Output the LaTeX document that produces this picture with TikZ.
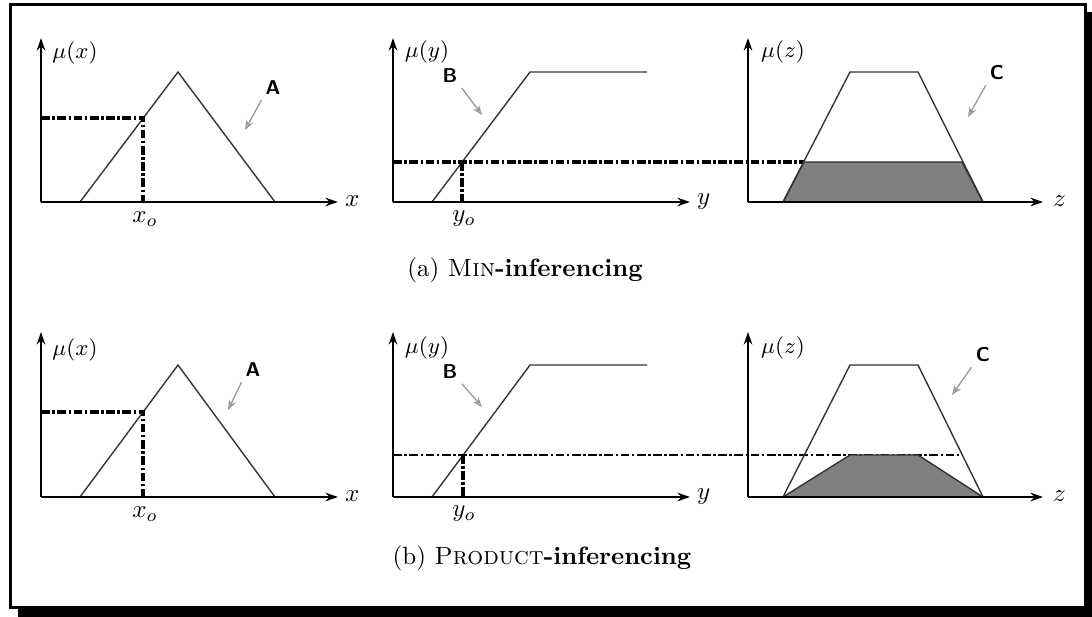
\documentclass[tikz,border=0pt]{standalone}
\usetikzlibrary{arrows.meta,calc}
\definecolor{fg}{RGB}{0,0,0}
\definecolor{ln}{RGB}{50,50,50}
\definecolor{mu}{RGB}{150,150,150}
\definecolor{shade}{RGB}{128,128,128}
\tikzset{
  every picture/.style={fg, line cap=butt, line join=miter},
  % Linien
  axis/.style={line width=1pt, -{Stealth[length=5pt,width=3.4pt]}},
  curve/.style={ln, line width=0.55pt},
  guide/.style={line width=1.3pt, dash pattern=on 3.5pt off 1pt on 1pt off 1pt},
  guidethin/.style={line width=0.55pt, dash pattern=on 3.5pt off 1pt on 1pt off 1pt},
  pointer/.style={mu, line width=0.5pt, -{Stealth[length=4pt,width=3pt,open]}},
  cut/.style={fill=shade, draw=ln, line width=0.55pt},
  % Beschriftung
  mulbl/.style={font=\small, inner sep=1pt},
  axlbl/.style={anchor=west, inner sep=1pt},
  sublbl/.style={inner sep=1pt},
  setlbl/.style={font=\sffamily\bfseries\footnotesize, inner sep=1pt},
  caplbl/.style={inner sep=1pt},
}

\begin{document}
\begin{tikzpicture}[x=0.4pt, y=-0.4pt]
  \useasboundingbox (0,0) rectangle (1092,617);
  % Rahmen mit Schatten
  \fill (18,608) rectangle (1092,617);
  \fill (1085,12) rectangle (1092,617);
  \draw[line width=1.2pt] (10,5) rectangle (1085,608);

  % (a) Min-Inferenz
  \coordinate (oxa) at (41,202);
  \coordinate (oya) at (393,202);
  \coordinate (oza) at (748,202);
  % mu(x)
  \draw[curve] (80,202) -- (178,72) -- (275,202);
  \draw[guide] (41,118) -- (143,118) -- (143,202);
  \draw[axis] (oxa) -- (338,202);
  \draw[axis] (oxa) -- (41,38);
  \node[axlbl] (xa) at (342,201) {$x$};
  \node[mulbl] (mxa) at (75,53) {$\mu(x)$};
  \node[sublbl] (x0a) at (145,219) {$x_o$};
  \node[setlbl] (Aa) at (273,88) {A};
  \coordinate (Aa-tip) at (245,130);
  \draw[pointer, shorten <=1pt] (Aa.south west) -- (Aa-tip);
  % mu(y)
  \draw[curve] (432,202) -- (530,72) -- (647,72);
  \draw[guide] (393,162) -- (804,162);
  \draw[guide] (462,162) -- (462,202);
  \draw[axis] (oya) -- (690,202);
  \draw[axis] (oya) -- (393,38);
  \node[axlbl] (ya) at (694,202) {$y$};
  \node[mulbl] (mya) at (427,52) {$\mu(y)$};
  \node[sublbl] (y0a) at (464,219) {$y_o$};
  \node[setlbl] (Ba) at (450,76) {B};
  \coordinate (Ba-tip) at (482,115);
  \draw[pointer, shorten <=1pt] (Ba.south east) -- (Ba-tip);
  % mu(z)
  \draw[cut] (783,202) -- (804,162) -- (962,162) -- (983,202) -- cycle;
  \draw[curve] (783,202) -- (850,72) -- (918,72) -- (983,202);
  \draw[axis] (oza) -- (1043,202);
  \draw[axis] (oza) -- (748,38);
  \node[axlbl] (za) at (1050,201) {$z$};
  \node[mulbl] (mza) at (783,52) {$\mu(z)$};
  \node[setlbl] (Ca) at (997,73) {C};
  \coordinate (Ca-tip) at (968,117);
  \draw[pointer, shorten <=1pt] (Ca.south west) -- (Ca-tip);
  \node[caplbl] (capa) at (525,270) {(a) \textsc{Min}\textbf{-inferencing}};

  % (b) Produkt-Inferenz
  \begin{scope}[shift={(0,295)}]
    \coordinate (oxb) at (41,202);
    \coordinate (oyb) at (393,202);
    \coordinate (ozb) at (748,202);
    % mu(x)
    \draw[curve] (80,202) -- (178,70) -- (275,202);
    \draw[guide] (41,117) -- (143,117) -- (143,202);
    \draw[axis] (oxb) -- (338,202);
    \draw[axis] (oxb) -- (41,37);
    \node[axlbl] (xb) at (342,201) {$x$};
    \node[mulbl] (mxb) at (75,55) {$\mu(x)$};
    \node[sublbl] (x0b) at (145,219) {$x_o$};
    \node[setlbl] (Ab) at (253,75) {A};
    \coordinate (Ab-tip) at (228,115);
    \draw[pointer, shorten <=1pt] (Ab.south west) -- (Ab-tip);
    % mu(y)
    \draw[curve] (432,202) -- (530,70) -- (647,70);
    \draw[guidethin] (393,160) -- (963,160);
    \draw[guide] (463,160) -- (463,202);
    \draw[axis] (oyb) -- (690,202);
    \draw[axis] (oyb) -- (393,37);
    \node[axlbl] (yb) at (694,202) {$y$};
    \node[mulbl] (myb) at (427,53) {$\mu(y)$};
    \node[sublbl] (y0b) at (464,219) {$y_o$};
    \node[setlbl] (Bb) at (450,77) {B};
    \coordinate (Bb-tip) at (482,112);
    \draw[pointer, shorten <=1pt] (Bb.south east) -- (Bb-tip);
    % mu(z)
    \draw[cut] (783,202) -- (850,160) -- (918,160) -- (983,202) -- cycle;
    \draw[curve] (783,202) -- (850,70) -- (918,70) -- (983,202);
    \draw[axis] (ozb) -- (1043,202);
    \draw[axis] (ozb) -- (748,37);
    \node[axlbl] (zb) at (1050,201) {$z$};
    \node[mulbl] (mzb) at (783,53) {$\mu(z)$};
    \node[setlbl] (Cb) at (983,60) {C};
    \coordinate (Cb-tip) at (952,100);
    \draw[pointer, shorten <=1pt] (Cb.south west) -- (Cb-tip);
    \node[caplbl] (capb) at (542,263) {(b) \textsc{Product}\textbf{-inferencing}};
  \end{scope}
\end{tikzpicture}
\end{document}
